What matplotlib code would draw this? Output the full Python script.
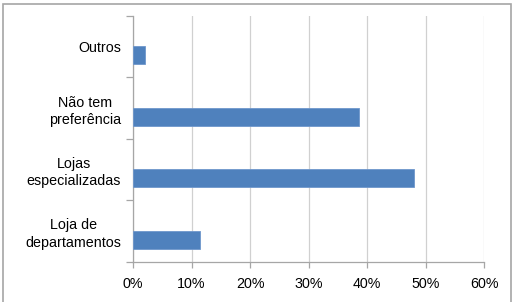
import numpy as np
from matplotlib import pyplot as plt
from matplotlib.patches import Rectangle

# categories from bottom to top, and share of answers in percent
categories = ["Loja de\ndepartamentos", "Lojas\nespecializadas",
              "Não tem\npreferência", "Outros"]
values = [11.4, 48.1, 38.6, 2.0]
xticks = [0, 10, 20, 30, 40, 50, 60]
xtick_labels = ["0%", "10%", "20%", "30%", "40%", "50%", "60%"]

plt.rcParams['font.family'] = ['Liberation Sans', 'DejaVu Sans']

fig = plt.figure(figsize=(5.14, 3.02), dpi=100)
ax = fig.add_axes([0.2588, 0.1334, 0.6829, 0.8136])

# outer chart frame
fig.patches.append(Rectangle((0.006, -0.05), 0.988, 1.037, transform=fig.transFigure,
                             fill=False, edgecolor="#a6a6a6", linewidth=1.2))

pos = np.arange(len(categories))
ax.barh(pos - 0.14, values, height=0.29, color="#4f81bd", edgecolor="#6f97cc",
        linewidth=0.6, zorder=3)

ax.set_xlim(0, 60)
ax.set_ylim(-0.5, len(categories) - 0.5)
ax.set_xticks(xticks)
ax.set_xticklabels(xtick_labels, fontsize=10.3)
ax.grid(axis="x", color="#d0d0d0", linewidth=0.9, zorder=0)

# labels at category centres, tick marks at the boundaries
ax.set_yticks(pos)
ax.set_yticklabels(categories, fontsize=10.3, multialignment="center",
                   linespacing=1.3)
ax.tick_params(axis="y", which="major", length=0, pad=8.5)
ax.set_yticks(np.arange(-0.5, len(categories)), minor=True)
ax.tick_params(axis="y", which="minor", length=5, color="#a6a6a6", width=0.9)
ax.tick_params(axis="x", length=4, color="#a6a6a6", width=0.9, pad=7)

for side in ["top", "right"]:
    ax.spines[side].set_visible(False)
for side in ["left", "bottom"]:
    ax.spines[side].set_color("#a6a6a6")
    ax.spines[side].set_linewidth(0.9)

plt.savefig("out.png", dpi=100)
